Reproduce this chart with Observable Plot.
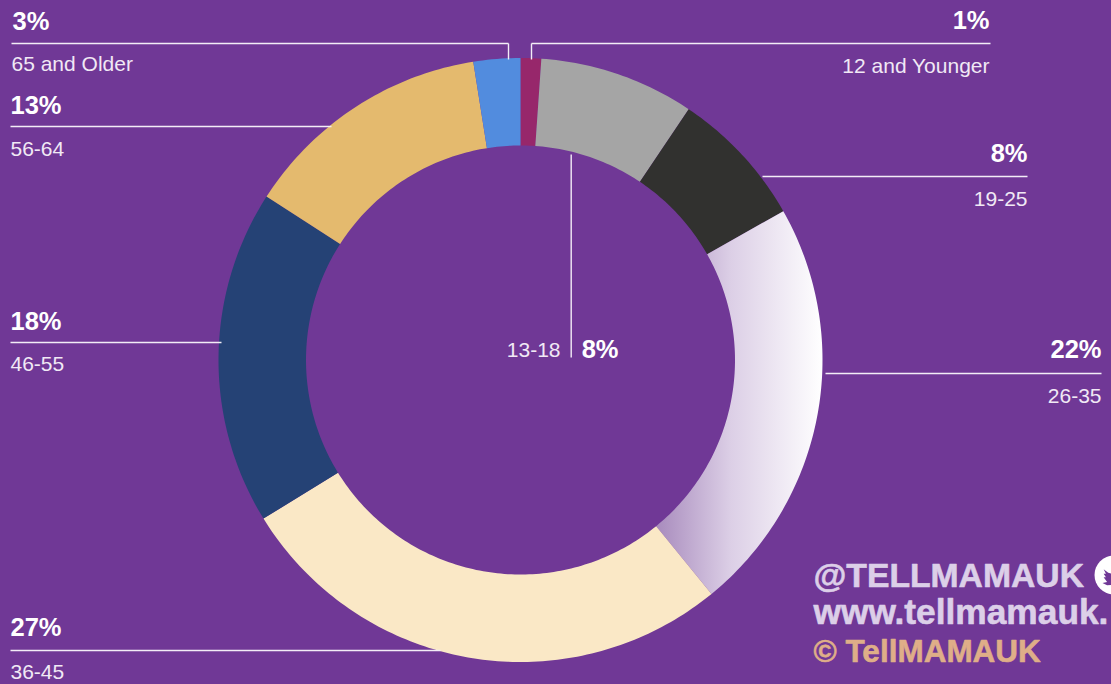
<!DOCTYPE html>
<html><head><meta charset="utf-8">
<script src="https://cdn.jsdelivr.net/npm/d3@7"></script>
<script src="https://cdn.jsdelivr.net/npm/@observablehq/plot@0.6"></script>
<style>html,body{margin:0;padding:0;background:#703896;overflow:hidden}</style>
</head><body><div id="c"></div>
<script>
const groups = ["12 and Younger","13-18","19-25","26-35","36-45","46-55","56-64","65 and Older"];
const shares = [1.1,8.3,7.4,22.3,27.1,17.9,13.4,2.5];
const percentLabels = ["1%","8%","8%","22%","27%","18%","13%","3%"];
const colors = ["#97276b","#a5a5a5","#31312f","url(#fade)","#fae8c6","#254275","#e4ba6e","#528cde"];

const layout = {cx:520.5, cy:360, outer:302, inner:214.5};
const W = 1111, H = 684;
const pie = d3.pie().sort(null)(shares);
const rows = [];
pie.forEach((s,i)=>{
  const n = Math.max(3, Math.ceil((s.endAngle-s.startAngle)*60));
  for(let k=0;k<=n;k++){
    const a = s.startAngle+(s.endAngle-s.startAngle)*k/n;
    rows.push({group:groups[i],
      x1:layout.inner*Math.sin(a), y1:layout.inner*Math.cos(a),
      x2:layout.outer*Math.sin(a), y2:layout.outer*Math.cos(a)});
  }
});
const X = v=>v-layout.cx, Y = v=>layout.cy-v;
const leaders = [
 [531,43,990,43],[531,43,531,59],[11,43,508,43],[508,43,508,59],
 [10,126,331,126],[762,176,1027,176],[570.7,154,570.7,357],
 [825,373,1101,373],[10,342,221,342],[10,650,440,650]
].map(([a,b,c,d])=>({x1:X(a),y1:Y(b),x2:X(c),y2:Y(d)}));
const pctPos = [[989,28,"end"],[618,357,"end"],[1027,161,"end"],[1101,357,"end"],[10,635,"start"],[10,329,"start"],[10,113,"start"],[12,29,"start"]];
const namePos = [[989,72,"end"],[560,356,"end"],[1027,205,"end"],[1101,402,"end"],[10,678,"start"],[10,370,"start"],[10,155,"start"],[11,70,"start"]];
const pctRows = percentLabels.map((t,i)=>({t,x:X(pctPos[i][0]),y:Y(pctPos[i][1]),a:pctPos[i][2]}));
const nameRows = groups.map((t,i)=>({t,x:X(namePos[i][0]),y:Y(namePos[i][1]),a:namePos[i][2]}));
const credits = [["@TELLMAMAUK",813,586.5,"#dccfe8",33.7],["www.tellmamauk.",813,623,"#dccfe8",35.3],["© TellMAMAUK",813,661.5,"#dfae88",31.5]]
  .map(([t,x,y,c,s])=>({t,x:X(x),y:Y(y),c,s}));
const badge = [{x:X(1113.5),y:Y(574.5)}];

const defs = ()=>{
  const s = d3.create("svg:defs");
  const g = s.append("linearGradient").attr("id","fade").attr("x1",0).attr("x2",1).attr("y1",0).attr("y2",0);
  g.append("stop").attr("offset",0).attr("stop-color","#a88bbd");
  g.append("stop").attr("offset",0.45).attr("stop-color","#dccfe6");
  g.append("stop").attr("offset",1).attr("stop-color","#ffffff");
  return s.node();
};
const birdSymbol = {draw(c,size){
  const k = Math.sqrt(size)/20;
  const pts = [[-9,-5],[-5,-2],[-1,-1],[-1,-5],[3,-9],[7,-8],[10,-9],[8,-6],[10,-6],[8,-3],[7,3],[2,8],[-6,9],[-10,7],[-6,6],[-9,2],[-7,2],[-9,-1],[-7,-1]];
  pts.forEach(([x,y],i)=>i?c.lineTo(x*k,y*k):c.moveTo(x*k,y*k));
  c.closePath();
}};
const textOpts = {fontFamily:"Liberation Sans, Arial, sans-serif", lineAnchor:"bottom"};
const textByAnchor = (data,anchor,opts)=>Plot.text(data.filter(d=>d.a===anchor),{x:"x",y:"y",text:"t",textAnchor:anchor,...textOpts,...opts});

const chart = Plot.plot({
  width:W,height:H,margin:0,
  style:{background:"#703896"},
  x:{domain:[X(0),X(W)],range:[0,W],axis:null},
  y:{domain:[Y(H),Y(0)],range:[H,0],axis:null},
  marks:[
    defs,
    ...groups.map((g,i)=>Plot.area(rows.filter(r=>r.group===g),{x1:"x1",y1:"y1",x2:"x2",y2:"y2",fill:colors[i],curve:"linear"})),
    Plot.link(leaders,{x1:"x1",y1:"y1",x2:"x2",y2:"y2",stroke:"#f3edf7",strokeWidth:1.4}),
    textByAnchor(pctRows,"start",{fill:"#fff",fontSize:25.5,fontWeight:"bold"}),
    textByAnchor(pctRows,"end",{fill:"#fff",fontSize:25.5,fontWeight:"bold"}),
    textByAnchor(nameRows,"start",{fill:"#f1e9f5",fontSize:21}),
    textByAnchor(nameRows,"end",{fill:"#f1e9f5",fontSize:21}),
    Plot.dot(badge,{x:"x",y:"y",r:19.5,fill:"#fff"}),
    Plot.dot(badge,{x:"x",y:"y",r:13,fill:"#703896",symbol:birdSymbol}),
    ...credits.map(d=>Plot.text([d],{x:"x",y:"y",text:"t",fill:d.c,stroke:d.c,strokeWidth:0.6,textAnchor:"start",fontSize:d.s,fontWeight:"bold",...textOpts}))
  ]
});
document.getElementById("c").appendChild(chart);
</script></body></html>
